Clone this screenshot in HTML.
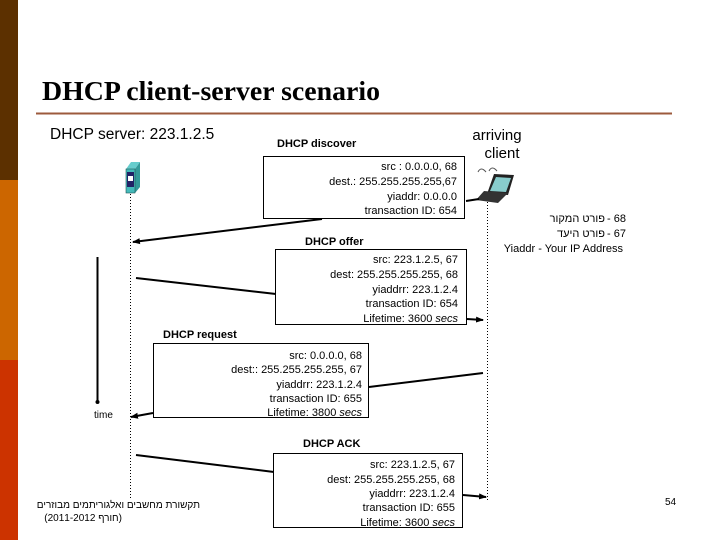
<!DOCTYPE html>
<html><head><meta charset="utf-8"><style>
html,body{margin:0;padding:0;background:#fff;}
svg{display:block;}
text{font-family:"Liberation Sans",Arial,sans-serif;}
</style></head><body>
<svg width="720" height="540" viewBox="0 0 720 540" xmlns="http://www.w3.org/2000/svg">
<defs>
<marker id="ah" markerWidth="8" markerHeight="8" refX="7" refY="4" orient="auto" markerUnits="userSpaceOnUse">
<path d="M0,1 L8,4 L0,7 z" fill="#000"/></marker>
</defs>
<rect x="0" y="0" width="18" height="180" fill="#5c3000"/>
<rect x="0" y="180" width="18" height="180" fill="#cc6600"/>
<rect x="0" y="360" width="18" height="180" fill="#cc3300"/>
<text x="42" y="100" font-size="27" font-weight="bold" fill="#000" style="font-family:'Liberation Serif',serif" textLength="338" lengthAdjust="spacingAndGlyphs">DHCP client-server scenario</text>
<line x1="36" y1="113.5" x2="672" y2="113.5" stroke="#9c5a3c" stroke-width="2"/>
<text x="50" y="139" font-size="15.5">DHCP server: 223.1.2.5</text>
<text x="497" y="140" font-size="15" text-anchor="middle">arriving</text>
<text x="502" y="158" font-size="15" text-anchor="middle">client</text>
<!-- server icon -->
<polygon points="126,169 131,162 140,162 135,169" fill="#6cc"/>
<polygon points="135,169 140,162 140,187 135,193" fill="#399"/>
<rect x="126" y="169" width="9" height="24" fill="#4bb" stroke="#255" stroke-width="0.6"/>
<rect x="127" y="172" width="7" height="15" fill="#226"/>
<rect x="128" y="176" width="5" height="5" fill="#fff"/>
<!-- laptop -->
<g>
<path d="M478,172 q3,-6 8,0 M489,171 q3,-6 8,0" stroke="#555" fill="none" stroke-width="1"/>
<polygon points="494,174 514,175 508,195 487,194" fill="#222"/>
<polygon points="496,177 511,178 506,192 490,191" fill="#8cc"/>
<polygon points="484,191 508,193 498,203 476,200" fill="#333"/>
</g>
<!-- lifelines -->
<line x1="130.5" y1="194" x2="130.5" y2="500" stroke="#000" stroke-dasharray="1,2"/>
<line x1="487.5" y1="202" x2="487.5" y2="500" stroke="#000" stroke-dasharray="1,2"/>
<!-- time -->
<line x1="97.5" y1="257" x2="97.5" y2="402" stroke="#000" stroke-width="2"/>
<circle cx="97.5" cy="402" r="2" fill="#000"/>
<text x="94" y="418" font-size="10">time</text>
<!-- discover -->
<text x="277" y="147" font-size="11" font-weight="bold">DHCP discover</text>
<line x1="479" y1="199" x2="466" y2="201" stroke="#000" stroke-width="2"/>
<line x1="322" y1="219" x2="133" y2="242" stroke="#000" stroke-width="2" marker-end="url(#ah)"/>
<rect x="263.5" y="156.5" width="201" height="62" fill="#fff" stroke="#000"/>
<g font-size="11" text-anchor="end">
<text x="457" y="170">src : 0.0.0.0, 68</text>
<text x="457" y="185">dest.: 255.255.255.255,67</text>
<text x="457" y="200">yiaddr:    0.0.0.0</text>
<text x="457" y="214">transaction ID: 654</text>
</g>
<!-- offer -->
<text x="305" y="245" font-size="11" font-weight="bold">DHCP offer</text>
<line x1="136" y1="278" x2="276" y2="294" stroke="#000" stroke-width="2"/>
<line x1="467" y1="319" x2="483" y2="320" stroke="#000" stroke-width="2" marker-end="url(#ah)"/>
<rect x="275.5" y="249.5" width="191" height="75" fill="#fff" stroke="#000"/>
<g font-size="11" text-anchor="end">
<text x="458" y="263">src: 223.1.2.5, 67</text>
<text x="458" y="278">dest:  255.255.255.255, 68</text>
<text x="458" y="293">yiaddrr: 223.1.2.4</text>
<text x="458" y="307">transaction ID: 654</text>
<text x="458" y="322">Lifetime: 3600 <tspan font-style="italic">secs</tspan></text>
</g>
<!-- request -->
<text x="163" y="338" font-size="11" font-weight="bold">DHCP request</text>
<line x1="483" y1="373" x2="369" y2="387" stroke="#000" stroke-width="2"/>
<line x1="153" y1="413" x2="131" y2="417" stroke="#000" stroke-width="2" marker-end="url(#ah)"/>
<rect x="153.5" y="343.5" width="215" height="74" fill="#fff" stroke="#000"/>
<g font-size="11" text-anchor="end">
<text x="362" y="359">src:  0.0.0.0, 68</text>
<text x="362" y="373">dest::  255.255.255.255, 67</text>
<text x="362" y="388">yiaddrr: 223.1.2.4</text>
<text x="362" y="402">transaction ID: 655</text>
<text x="362" y="416">Lifetime: 3800 <tspan font-style="italic">secs</tspan></text>
</g>
<!-- ack -->
<text x="303" y="447" font-size="11" font-weight="bold">DHCP ACK</text>
<line x1="136" y1="455" x2="274" y2="472" stroke="#000" stroke-width="2"/>
<line x1="463" y1="495" x2="486" y2="497" stroke="#000" stroke-width="2" marker-end="url(#ah)"/>
<rect x="273.5" y="453.5" width="189" height="74" fill="#fff" stroke="#000"/>
<g font-size="11" text-anchor="end">
<text x="455" y="468">src: 223.1.2.5, 67</text>
<text x="455" y="483">dest:  255.255.255.255, 68</text>
<text x="455" y="497">yiaddrr: 223.1.2.4</text>
<text x="455" y="511">transaction ID: 655</text>
<text x="455" y="526">Lifetime: 3600 <tspan font-style="italic">secs</tspan></text>
</g>
<!-- right notes -->
<g font-size="11" text-anchor="end">
<text x="605" y="222">פורט המקור</text>
<text x="626" y="222">- 68</text>
<text x="605" y="237">פורט היעד</text>
<text x="626" y="237">- 67</text>
<text x="623" y="252">Yiaddr - Your IP Address</text>
</g>
<text x="200" y="508" font-size="10" text-anchor="end">תקשורת מחשבים ואלגוריתמים מבוזרים</text>
<text x="122" y="521" font-size="10" text-anchor="end">(2011-2012 חורף)</text>
<text x="665" y="505" font-size="10">54</text>
</svg>
</body></html>
